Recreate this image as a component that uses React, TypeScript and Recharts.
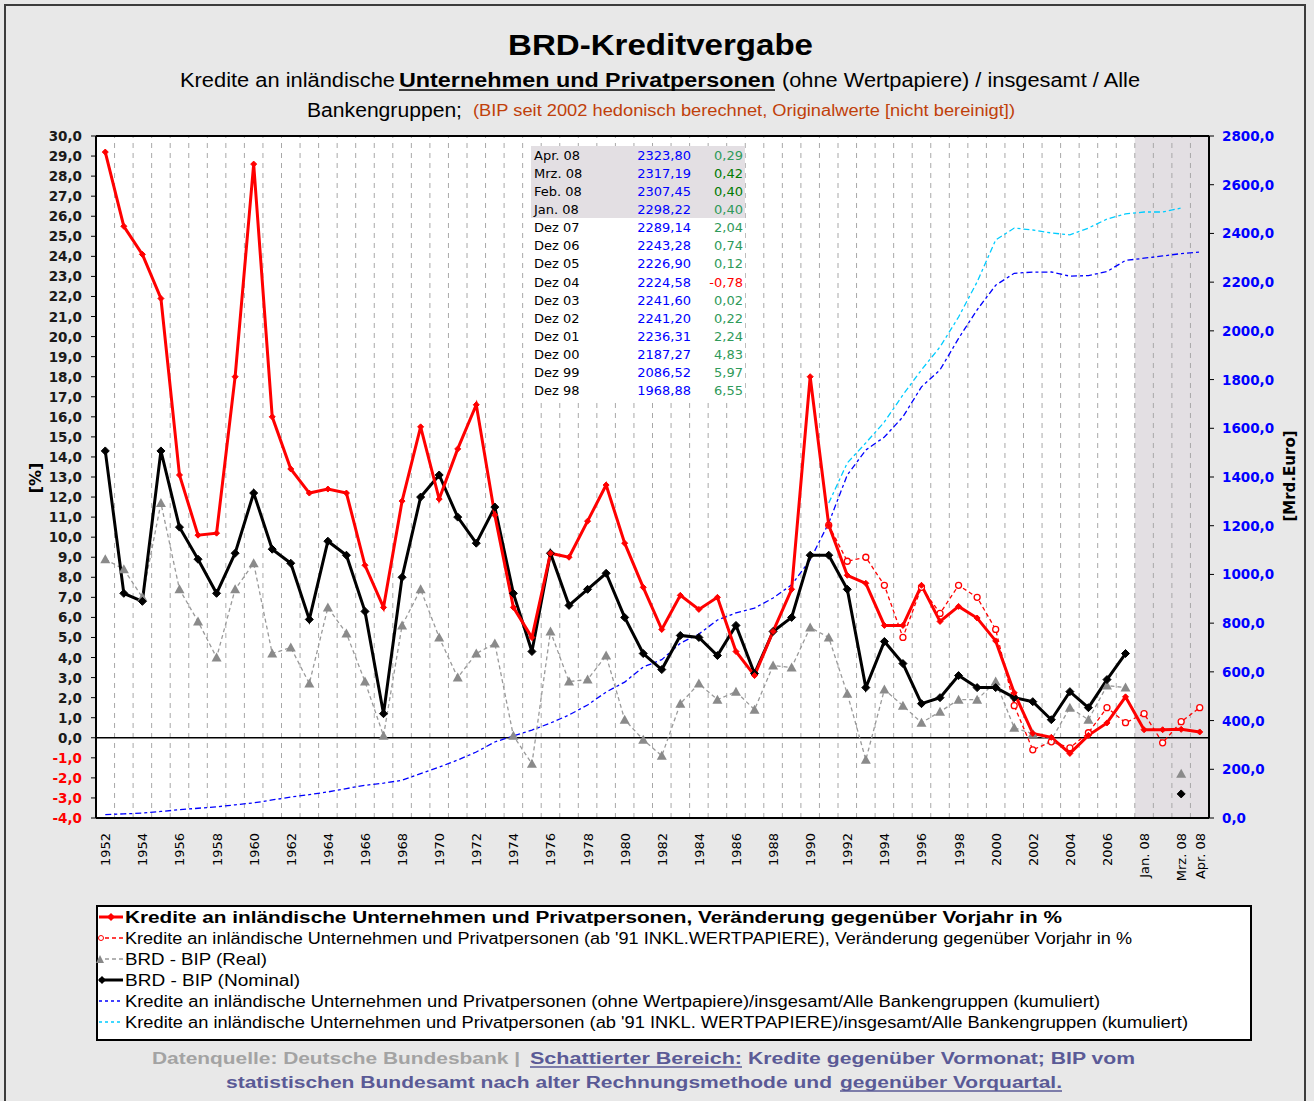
import React from "react";
import {
  ComposedChart,
  Line,
  XAxis,
  YAxis,
  ReferenceLine,
  ReferenceArea,
  CartesianGrid,
} from "recharts";

const periods = [
  "1952", "1953", "1954", "1955", "1956", "1957", "1958", "1959", "1960", "1961",
  "1962", "1963", "1964", "1965", "1966", "1967", "1968", "1969", "1970", "1971",
  "1972", "1973", "1974", "1975", "1976", "1977", "1978", "1979", "1980", "1981",
  "1982", "1983", "1984", "1985", "1986", "1987", "1988", "1989", "1990", "1991",
  "1992", "1993", "1994", "1995", "1996", "1997", "1998", "1999", "2000", "2001",
  "2002", "2003", "2004", "2005", "2006", "2007", "Jan. 08", "Feb. 08", "Mrz. 08", "Apr. 08",
];

// Kredite an inländische Unternehmen und Privatpersonen, Veränderung in %
const kredite = [
  29.2, 25.5, 24.1, 21.9, 13.1, 10.1, 10.2, 18.0, 28.6, 16.0,
  13.4, 12.2, 12.4, 12.2, 8.6, 6.5, 11.8, 15.5, 11.9, 14.4,
  16.6, 11.1, 6.5, 5.0, 9.2, 9.0, 10.8, 12.6, 9.7, 7.5,
  5.4, 7.1, 6.4, 7.0, 4.3, 3.1, 5.3, 7.4, 18.0, 10.6,
  8.1, 7.7, 5.6, 5.6, 7.6, 5.8, 6.55, 5.97, 4.83, 2.24,
  0.22, 0.02, -0.78, 0.12, 0.74, 2.04, 0.4, 0.4, 0.42, 0.29,
];

// ab '91 inkl. Wertpapiere
const krediteWp = [
  null, null, null, null, null, null, null, null, null, null,
  null, null, null, null, null, null, null, null, null, null,
  null, null, null, null, null, null, null, null, null, null,
  null, null, null, null, null, null, null, null, null, 10.6,
  8.8, 9.0, 7.6, 5.0, 7.5, 6.2, 7.6, 7.0, 5.4, 1.6,
  -0.6, -0.2, -0.5, 0.25, 1.5, 0.75, 1.2, -0.25, 0.8, 1.5,
];

const bipReal = [
  8.9, 8.4, 7.0, 11.7, 7.4, 5.8, 4.0, 7.4, 8.7, 4.2,
  4.5, 2.7, 6.5, 5.2, 2.8, 0.1, 5.6, 7.4, 5.0, 3.0,
  4.2, 4.7, 0.1, -1.3, 5.3, 2.8, 2.9, 4.1, 0.9, -0.1,
  -0.9, 1.7, 2.7, 1.9, 2.3, 1.4, 3.6, 3.5, 5.5, 5.0,
  2.2, -1.1, 2.4, 1.6, 0.75, 1.3, 1.9, 1.9, 2.8, 0.5,
  0.2, -0.1, 1.5, 0.9, 2.6, 2.5, null, null, -1.8, null,
];

const bipNominal = [
  14.3, 7.2, 6.8, 14.3, 10.5, 8.9, 7.2, 9.2, 12.2, 9.4,
  8.7, 5.9, 9.8, 9.1, 6.3, 1.2, 8.0, 12.0, 13.1, 11.0,
  9.7, 11.5, 7.2, 4.3, 9.2, 6.6, 7.4, 8.2, 6.0, 4.2,
  3.4, 5.1, 5.0, 4.1, 5.6, 3.2, 5.3, 6.0, 9.1, 9.1,
  7.4, 2.5, 4.8, 3.7, 1.7, 2.0, 3.1, 2.5, 2.5, 2.0,
  1.8, 0.9, 2.3, 1.5, 2.9, 4.2, null, null, -2.8, null,
];

// kumuliert, Mrd. Euro
const kumuliert = [
  14, 17, 20, 27, 34, 40, 46, 54, 62, 74,
  86, 96, 107, 121, 134, 143, 155, 182, 209, 238,
  271, 312, 337, 361, 390, 423, 464, 517, 558, 620,
  650, 718, 755, 813, 842, 862, 903, 957, 1060, 1211,
  1408, 1511, 1564, 1647, 1770, 1840, 1968.88, 2086.52, 2187.27, 2236.31,
  2241.2, 2241.6, 2224.58, 2226.9, 2243.28, 2289.14, 2298.22, 2307.45, 2317.19, 2323.8,
];

const kumuliertWp = [
  null, null, null, null, null, null, null, null, null, null,
  null, null, null, null, null, null, null, null, null, null,
  null, null, null, null, null, null, null, null, null, null,
  null, null, null, null, null, null, null, null, null, 1293,
  1458, 1540, 1626, 1737, 1840, 1934, 2057, 2201, 2373, 2422,
  2414, 2402, 2394, 2422, 2459, 2480, 2488, 2488, 2504, null,
];

const xTicks = [
  0, 2, 4, 6, 8, 10, 12, 14, 16, 18, 20, 22, 24, 26, 28, 30, 32, 34, 36, 38,
  40, 42, 44, 46, 48, 50, 52, 54, 56, 58, 59,
];
const leftTicks = [
  -4, -3, -2, -1, 0, 1, 2, 3, 4, 5, 6, 7, 8, 9, 10, 11, 12, 13, 14, 15, 16,
  17, 18, 19, 20, 21, 22, 23, 24, 25, 26, 27, 28, 29, 30,
];
const rightTicks = [0, 200, 400, 600, 800, 1000, 1200, 1400, 1600, 1800, 2000, 2200, 2400, 2600, 2800];

const tblLabels = [
  "Apr. 08", "Mrz. 08", "Feb. 08", "Jan. 08", "Dez 07", "Dez 06", "Dez 05",
  "Dez 04", "Dez 03", "Dez 02", "Dez 01", "Dez 00", "Dez 99", "Dez 98",
];
const tblKum = [
  2323.8, 2317.19, 2307.45, 2298.22, 2289.14, 2243.28, 2226.9,
  2224.58, 2241.6, 2241.2, 2236.31, 2187.27, 2086.52, 1968.88,
];
const tblChange = [0.29, 0.42, 0.4, 0.4, 2.04, 0.74, 0.12, -0.78, 0.02, 0.22, 2.24, 4.83, 5.97, 6.55];
const tblMonthly = 4;

const legendItems = [
  "Kredite an inländische Unternehmen und Privatpersonen, Veränderung gegenüber Vorjahr in %",
  "Kredite an inländische Unternehmen und Privatpersonen (ab '91 INKL.WERTPAPIERE), Veränderung gegenüber Vorjahr in %",
  "BRD - BIP (Real)",
  "BRD - BIP (Nominal)",
  "Kredite an inländische Unternehmen und Privatpersonen (ohne Wertpapiere)/insgesamt/Alle Bankengruppen (kumuliert)",
  "Kredite an inländische Unternehmen und Privatpersonen (ab '91 INKL. WERTPAPIERE)/insgesamt/Alle Bankengruppen (kumuliert)",
];
// rendered widths of the legend texts in the original
const legendWidths = [937, 1007, 142, 175, 975, 1063];

const data = periods.map((p, i) => ({
  i,
  p,
  kred: kredite[i],
  kredWp: krediteWp[i],
  real: bipReal[i],
  nom: bipNominal[i],
  kum: kumuliert[i],
  kumWp: kumuliertWp[i],
}));

const boundaries = periods.slice(1).map((_, k) => k + 0.5);
const shadeStart = periods.indexOf("Jan. 08") - 0.5;

const FONT = "'Liberation Sans', Arial, sans-serif";
const WIDE = "'DejaVu Sans', Verdana, sans-serif";
const comma = (v: number, d: number) => v.toFixed(d).replace(".", ",");

function diamond(color: string, r: number) {
  return (props: any) => {
    const { cx, cy, index, value } = props;
    if (cx == null || cy == null || value == null) return <g key={`e${index}`} />;
    return (
      <path
        key={`d${index}`}
        d={`M${cx},${cy - r}L${cx + r},${cy}L${cx},${cy + r}L${cx - r},${cy}Z`}
        fill={color}
        stroke={color}
      />
    );
  };
}

function triangle(color: string) {
  return (props: any) => {
    const { cx, cy, index, value } = props;
    if (cx == null || cy == null || value == null) return <g key={`e${index}`} />;
    return (
      <path key={`t${index}`} d={`M${cx},${cy - 5}L${cx + 5},${cy + 4}L${cx - 5},${cy + 4}Z`} fill={color} />
    );
  };
}

function ring(color: string) {
  return (props: any) => {
    const { cx, cy, index, value } = props;
    if (cx == null || cy == null || value == null) return <g key={`e${index}`} />;
    return <circle key={`c${index}`} cx={cx} cy={cy} r={3} fill="#fff" stroke={color} strokeWidth={1.3} />;
  };
}

const LeftTick = (props: any) => {
  const { x, y, payload } = props;
  return (
    <text x={x} y={y} dy={5} textAnchor="end" fontSize={13.5} fontWeight="bold" fontFamily={WIDE}
      fill={payload.value < 0 ? "#ff0000" : "#1a1a1a"}>
      {comma(payload.value, 1)}
    </text>
  );
};

const RightTick = (props: any) => {
  const { x, y, payload } = props;
  return (
    <text x={x} y={y} dy={5} textAnchor="start" fontSize={13.5} fontWeight="bold" fontFamily={WIDE} fill="#0000ff">
      {comma(payload.value, 1)}
    </text>
  );
};

const BottomTick = (props: any) => {
  const { x, y, payload } = props;
  const ay = y + 7;
  return (
    <text x={x} y={ay} dy={5} textAnchor="end" fontSize={13} fontFamily={WIDE}
      fill="#000" transform={`rotate(-90, ${x}, ${ay})`}>
      {periods[payload.value]}
    </text>
  );
};

function Fit(props: {
  x: number;
  y: number;
  w: number;
  size: number;
  bold?: boolean;
  color?: string;
  children: React.ReactNode;
}) {
  return (
    <text
      x={props.x}
      y={props.y}
      textLength={props.w}
      lengthAdjust="spacingAndGlyphs"
      fontSize={props.size}
      fontWeight={props.bold ? "bold" : "normal"}
      fill={props.color || "#000"}
      fontFamily={FONT}
    >
      {props.children}
    </text>
  );
}

function LegendSample({ kind, y }: { kind: number; y: number }) {
  const x0 = 99;
  const x1 = 123;
  if (kind === 0)
    return (
      <g>
        <line x1={x0} y1={y} x2={x1} y2={y} stroke="#ff0000" strokeWidth={3} />
        <path d={`M${x0 + 12},${y - 4}L${x0 + 16},${y}L${x0 + 12},${y + 4}L${x0 + 8},${y}Z`} fill="#ff0000" />
      </g>
    );
  if (kind === 1)
    return (
      <g>
        <line x1={x0 + 6} y1={y} x2={x1} y2={y} stroke="#ff0000" strokeWidth={1.3} strokeDasharray="4 3" />
        <circle cx={x0 + 2} cy={y} r={2.5} fill="#fff" stroke="#ff0000" />
      </g>
    );
  if (kind === 2)
    return (
      <g>
        <line x1={x0 + 6} y1={y} x2={x1} y2={y} stroke="#999" strokeWidth={1.3} strokeDasharray="4 3" />
        <path d={`M${x0 + 1},${y - 4}L${x0 + 5},${y + 4}L${x0 - 3},${y + 4}Z`} fill="#888" />
      </g>
    );
  if (kind === 3)
    return (
      <g>
        <line x1={x0} y1={y} x2={x1} y2={y} stroke="#000" strokeWidth={3} />
        <path d={`M${x0 + 3},${y - 4}L${x0 + 7},${y}L${x0 + 3},${y + 4}L${x0 - 1},${y}Z`} fill="#000" />
      </g>
    );
  const col = kind === 4 ? "#0000ff" : "#00ccff";
  return <line x1={x0} y1={y} x2={x1} y2={y} stroke={col} strokeWidth={1.5} strokeDasharray="3 3" />;
}

export default function App() {
  return (
    <div
      style={{
        position: "absolute",
        left: 0,
        top: 0,
        width: 1314,
        height: 1101,
        background: "#e8e8e8",
        fontFamily: FONT,
        overflow: "hidden",
      }}
    >
      <div
        style={{
          position: "absolute",
          left: 4,
          top: 4,
          width: 1302,
          height: 1100,
          border: "2px solid #3c3c3c",
          boxSizing: "border-box",
        }}
      />

      <div style={{ position: "absolute", left: 0, top: 0 }}>
        <ComposedChart
          width={1314}
          height={900}
          data={data}
          margin={{ top: 136, right: 25, bottom: 12, left: 16 }}
        >
          <CartesianGrid yAxisId="left" fill="#ffffff" horizontal={false} vertical={false} />
          <XAxis
            dataKey="i"
            type="number"
            domain={[-0.5, 59.5]}
            allowDataOverflow
            ticks={xTicks}
            interval={0}
            tick={<BottomTick />}
            tickLine={false}
            axisLine={{ stroke: "#000", strokeWidth: 2 }}
            height={70}
          />
          <YAxis
            yAxisId="left"
            domain={[-4, 30]}
            ticks={leftTicks}
            interval={0}
            width={80}
            tick={<LeftTick />}
            tickSize={5}
            tickMargin={9}
            tickLine={{ stroke: "#000" }}
            axisLine={{ stroke: "#000", strokeWidth: 2 }}
          />
          <YAxis
            yAxisId="right"
            orientation="right"
            domain={[0, 2800]}
            ticks={rightTicks}
            interval={0}
            width={80}
            tick={<RightTick />}
            tickSize={5}
            tickMargin={8}
            tickLine={{ stroke: "#000" }}
            axisLine={{ stroke: "#000", strokeWidth: 2 }}
          />
          <ReferenceArea yAxisId="left" x1={shadeStart} x2={59.5} y1={-4} y2={30} fill="#e3dfe3" fillOpacity={1} stroke="none" />
          {boundaries.map((b) => (
            <ReferenceLine key={b} yAxisId="left" x={b} stroke="#a8a8a8" strokeDasharray="5 5" strokeWidth={1} />
          ))}
          <ReferenceLine yAxisId="left" y={0} stroke="#000" strokeWidth={1.5} />
          <ReferenceLine yAxisId="left" y={30} stroke="#000" strokeWidth={2} />

          <Line yAxisId="right" dataKey="kum" stroke="#0000ff" strokeWidth={1.3} strokeDasharray="6 3 3 3" dot={false} isAnimationActive={false} />
          <Line yAxisId="right" dataKey="kumWp" stroke="#00ccff" strokeWidth={1.3} strokeDasharray="6 3 3 3" dot={false} isAnimationActive={false} />
          <Line yAxisId="left" dataKey="real" stroke="#9a9a9a" strokeWidth={1.3} strokeDasharray="4 3" dot={triangle("#8a8a8a")} isAnimationActive={false} />
          <Line yAxisId="left" dataKey="kredWp" stroke="#ff0000" strokeWidth={1.3} strokeDasharray="4 3" dot={ring("#ff0000")} isAnimationActive={false} />
          <Line yAxisId="left" dataKey="nom" stroke="#000" strokeWidth={3} dot={diamond("#000", 4)} isAnimationActive={false} />
          <Line yAxisId="left" dataKey="kred" stroke="#ff0000" strokeWidth={3} dot={diamond("#ff0000", 3)} isAnimationActive={false} />
        </ComposedChart>
      </div>

      <svg width={1314} height={1101} style={{ position: "absolute", left: 0, top: 0, pointerEvents: "none" }}>
        {/* Titel */}
        <Fit x={508} y={55} w={305} size={29} bold>
          BRD-Kreditvergabe
        </Fit>
        <Fit x={180} y={87} w={215} size={20}>Kredite an inländische</Fit>
        <Fit x={399} y={87} w={376} size={20} bold>Unternehmen und Privatpersonen</Fit>
        <line x1={399} y1={90} x2={775} y2={90} stroke="#000" strokeWidth={1.5} />
        <Fit x={782} y={87} w={358} size={20}>(ohne Wertpapiere) / insgesamt / Alle</Fit>
        <Fit x={307} y={117} w={155} size={20}>Bankengruppen;</Fit>
        <Fit x={473} y={116} w={542} size={16} color="#c0400a">
          (BIP seit 2002 hedonisch berechnet, Originalwerte [nicht bereinigt])
        </Fit>

        {/* Wertetabelle */}
        <rect x={531} y={146} width={214} height={253} fill="#fff" />
        <rect x={531} y={146} width={214} height={72} fill="#e3dfe3" />
        {tblLabels.map((lbl, r) => {
          const cy = 155 + r * 18.08;
          const chgCol = tblChange[r] < 0 ? "#ff0000" : r === 1 || r === 2 ? "#007a00" : "#2f9a5a";
          return (
            <g key={lbl} fontFamily={WIDE} fontSize={13}>
              <text x={534} y={cy + 5} fill={r < tblMonthly ? "#000" : "#000"}>{lbl}</text>
              <text x={691} y={cy + 5} textAnchor="end" fill="#0000ff">{comma(tblKum[r], 2)}</text>
              <text x={743} y={cy + 5} textAnchor="end" fill={chgCol}>{comma(tblChange[r], 2)}</text>
            </g>
          );
        })}

        {/* Achsentitel */}
        <text x={41} y={478} textAnchor="middle" fontSize={16} fontWeight="bold" fontFamily={WIDE}
          transform="rotate(-90, 41, 478)">
          [%]
        </text>
        <text x={1295} y={476} textAnchor="middle" fontSize={15} fontWeight="bold" fontFamily={WIDE}
          transform="rotate(-90, 1295, 476)">
          [Mrd.Euro]
        </text>

        {/* Legende */}
        <rect x={97} y={906} width={1154} height={134} fill="#fff" stroke="#000" strokeWidth={2} />
        {legendItems.map((t, k) => {
          const cy = 917 + k * 21;
          return (
            <g key={k}>
              <LegendSample kind={k} y={cy} />
              <Fit x={125} y={cy + 6} w={legendWidths[k]} size={16} bold={k === 0}>
                {t}
              </Fit>
            </g>
          );
        })}

        {/* Quelle */}
        <Fit x={152} y={1064} w={368} size={16} bold color="#a3a3a3">
          Datenquelle: Deutsche Bundesbank |
        </Fit>
        <Fit x={530} y={1064} w={212} size={16} bold color="#5a5a96">
          Schattierter Bereich:
        </Fit>
        <line x1={530} y1={1067} x2={742} y2={1067} stroke="#5a5a96" strokeWidth={1.5} />
        <Fit x={748} y={1064} w={387} size={16} bold color="#5a5a96">
          Kredite gegenüber Vormonat; BIP vom
        </Fit>
        <Fit x={226} y={1088} w={606} size={16} bold color="#5a5a96">
          statistischen Bundesamt nach alter Rechnungsmethode und
        </Fit>
        <Fit x={840} y={1088} w={222} size={16} bold color="#5a5a96">
          gegenüber Vorquartal.
        </Fit>
        <line x1={840} y1={1091} x2={1062} y2={1091} stroke="#5a5a96" strokeWidth={1.5} />
      </svg>
    </div>
  );
}
